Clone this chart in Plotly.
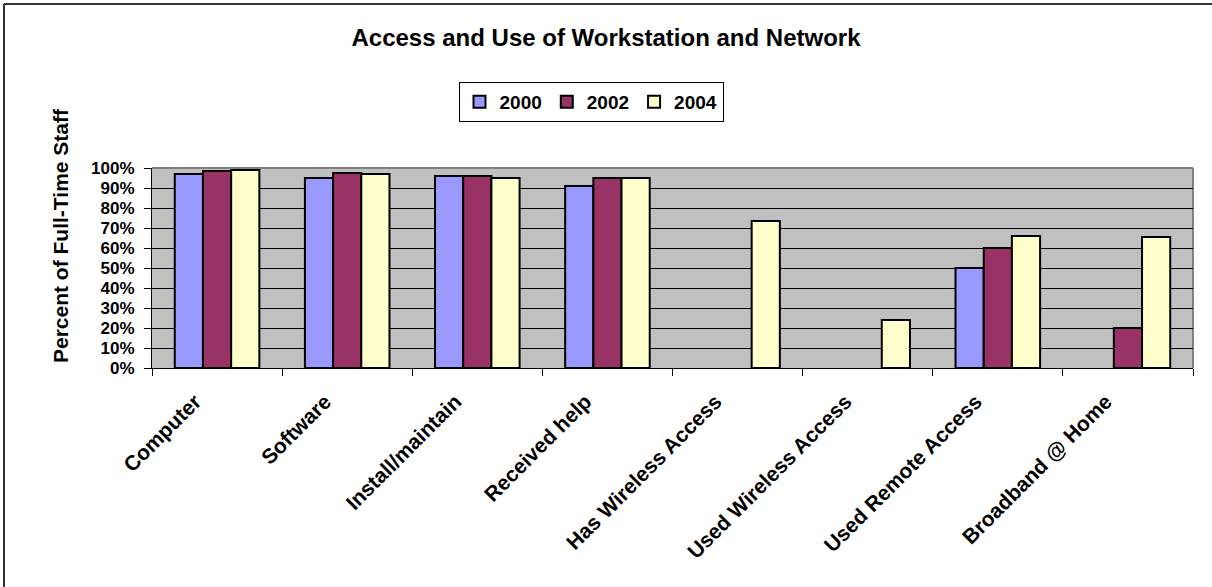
import plotly.graph_objects as go

categories = ["Computer", "Software", "Install/maintain", "Received help",
              "Has Wireless Access", "Used Wireless Access", "Used Remote Access",
              "Broadband @ Home"]
years = ["2000", "2002", "2004"]
y2000 = [0.97, 0.95, 0.96, 0.91, None, None, 0.50, None]
y2002 = [0.985, 0.975, 0.96, 0.95, None, None, 0.60, 0.20]
y2004 = [0.99, 0.97, 0.95, 0.95, 0.735, 0.24, 0.66, 0.655]
colors = ["#9999FF", "#993366", "#FFFFCC"]
yticks = [i / 10 for i in range(11)]

W, H = 1212, 587
L, R, T, B = 152, 19, 168, 219
pw, ph = W - L - R, H - T - B

FONT = "Liberation Sans, Arial, sans-serif"

fig = go.Figure()
for name, vals, col in zip(years, [y2000, y2002, y2004], colors):
    fig.add_trace(go.Bar(
        x=categories, y=vals, name=name,
        marker=dict(color=col, line=dict(color="black", width=2)),
    ))

def px_x(p):
    return (p - L) / pw

def px_y(p):
    return (H - B - p) / ph

fig.update_layout(
    width=W, height=H,
    margin=dict(l=L, r=R, t=T, b=B, pad=0),
    paper_bgcolor="white",
    plot_bgcolor="#C0C0C0",
    barmode="group",
    bargap=0.35,
    bargroupgap=0,
    font=dict(family=FONT, color="black"),
    title=dict(
        text="<b>Access and Use of Workstation and Network</b>",
        font=dict(size=24, family=FONT, color="black"),
        x=0.5, xref="container", xanchor="center",
        y=1 - 38 / H, yref="container", yanchor="middle",
    ),
    legend=dict(
        orientation="h",
        x=px_x(591), xanchor="center",
        y=px_y(82), yanchor="top",
        bgcolor="white", bordercolor="black", borderwidth=1,
        font=dict(size=19, family=FONT, color="black", weight="bold"),
        itemwidth=30,
        tracegroupgap=0,
    ),
    xaxis=dict(
        type="category",
        tickangle=-45,
        tickfont=dict(size=21, family=FONT, color="black", weight="bold"),
        showline=True, linecolor="black", linewidth=1,
        ticks="outside", tickson="boundaries", ticklen=7, tickcolor="black",
        ticklabelstandoff=12, ticklabelshift=-22,
        showgrid=False,
    ),
    yaxis=dict(
        range=[0, 1],
        tickvals=yticks,
        tickformat=".0%",
        tickfont=dict(size=17, family=FONT, color="black", weight="bold"),
        showline=True, linecolor="black", linewidth=1,
        ticks="outside", ticklen=7, tickcolor="black",
        ticklabelstandoff=6,
        showgrid=True, gridcolor="black", gridwidth=1,
        zeroline=False,
    ),
    shapes=[
        dict(type="line", xref="paper", yref="paper", x0=0, x1=1, y0=1, y1=1,
             line=dict(color="#808080", width=2), layer="below"),
        dict(type="line", xref="paper", yref="paper", x0=1, x1=1, y0=0, y1=1,
             line=dict(color="#808080", width=2), layer="below"),
        dict(type="line", xref="paper", yref="paper",
             x0=px_x(4), x1=px_x(W + 5), y0=px_y(4), y1=px_y(4),
             line=dict(color="#333333", width=2)),
        dict(type="line", xref="paper", yref="paper",
             x0=px_x(4), x1=px_x(4), y0=px_y(4), y1=px_y(H + 5),
             line=dict(color="#333333", width=2)),
    ],
    annotations=[
        dict(text="<b>Percent of Full-Time Staff</b>", textangle=-90,
             xref="paper", yref="paper", x=px_x(60), y=px_y(236),
             xanchor="center", yanchor="middle", showarrow=False,
             font=dict(size=21, family=FONT, color="black")),
    ],
)

fig.write_html("out.html")
